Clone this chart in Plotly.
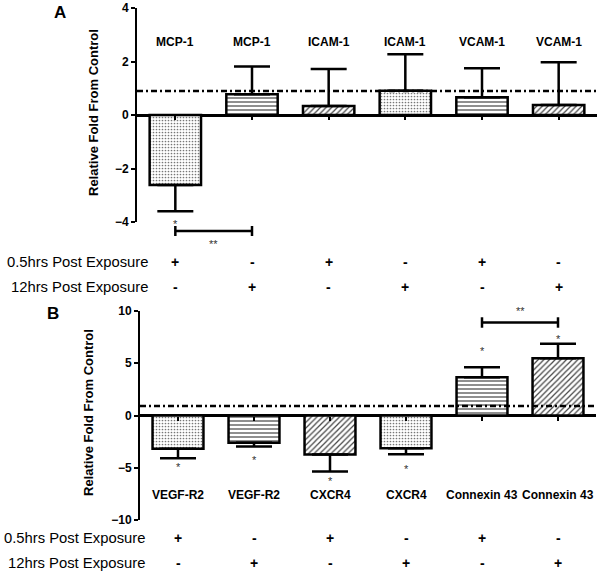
import plotly.graph_objects as go

# ---------------- data ----------------
cat_pos = [0, 1, 2, 3, 4, 5]
genes_a = ["MCP-1", "MCP-1", "ICAM-1", "ICAM-1", "VCAM-1", "VCAM-1"]
vals_a = [-2.62, 0.78, 0.34, 0.91, 0.66, 0.37]
errs_a = [0.98, 1.03, 1.38, 1.36, 1.09, 1.60]

genes_b = ["VEGF-R2", "VEGF-R2", "CXCR4", "CXCR4", "Connexin 43", "Connexin 43"]
vals_b = [-3.19, -2.60, -3.73, -3.13, 3.67, 5.48]
errs_b = [0.89, 0.37, 1.63, 0.57, 0.95, 1.38]

early = ["+", "-", "+", "-", "+", "-"]
late = ["-", "+", "-", "+", "-", "+"]
row_labels = ["0.5hrs Post Exposure", "12hrs Post Exposure"]

control_level = 0.9
ticks_a = [-4, -2, 0, 2, 4]
ticks_b = [-10, -5, 0, 5, 10]

star_a_pos = [0]
star_b_pos = [0, 1, 2, 3, 4, 5]
star_b_y = [-4.95, -4.3, -6.3, -5.15, 6.2, 7.35]
bracket_a = (0, 1)
bracket_b = (4, 5)

patterns = [".", "-", "/", ".", "-", "/"]

# ---------------- layout geometry ----------------
W, H = 601, 575
def py(p):
    return 1 - p / H
def px(p):
    return p / W

dom_xa = [px(137), px(597)]
dom_ya = [py(222), py(8)]
dom_xb = [px(140), px(596)]
dom_yb = [py(520), py(311)]
rng_x = [-0.5, 5.5]
rng_a = [-4, 4]
rng_b = [-10, 10]

def zero_pos(dom, rng):
    return dom[0] + (0 - rng[0]) / (rng[1] - rng[0]) * (dom[1] - dom[0])

FAM = "Liberation Sans"
bold = dict(family=FAM, size=12, color="black", weight="bold")

def bar_trace(vals, errs, xa, ya):
    up = [e if v >= 0 else 0 for v, e in zip(vals, errs)]
    dn = [e if v < 0 else 0 for v, e in zip(vals, errs)]
    sizes = [3 if s == "." else 4 for s in patterns]
    sol = [0.25 if s == "." else 0.3 for s in patterns]
    fg = ["#777777" if s == "." else "#444444" for s in patterns]
    return go.Bar(
        x=cat_pos, y=vals, xaxis=xa, yaxis=ya, width=0.67,
        marker=dict(color="white",
                    line=dict(color="black", width=2.5),
                    pattern=dict(shape=patterns, fgcolor=fg,
                                 bgcolor="white", size=sizes, solidity=sol)),
        error_y=dict(type="data", symmetric=False, array=up, arrayminus=dn,
                     color="black", thickness=2.5, width=18),
        showlegend=False, hoverinfo="skip",
    )

fig = go.Figure()
fig.add_trace(bar_trace(vals_a, errs_a, "x", "y"))
fig.add_trace(bar_trace(vals_b, errs_b, "x2", "y2"))

def xaxis(dom, pos):
    return dict(domain=dom, range=rng_x, anchor="free", position=pos,
                automargin=False,
                showline=False, showgrid=False, zeroline=False,
                tickvals=cat_pos, showticklabels=False,
                ticks="outside", ticklen=4, tickwidth=1.5, tickcolor="black")

def yaxis(dom, rng, tv, xa):
    return dict(domain=dom, range=rng, anchor=xa, showline=True, automargin=False,
                linecolor="black", linewidth=2, showgrid=False,
                zeroline=True, zerolinecolor="black", zerolinewidth=2.5,
                tickvals=tv, ticks="outside", ticklen=4, tickwidth=2,
                tickcolor="black", tickfont=bold)

fig.update_layout(
    template="none",
    width=W, height=H, margin=dict(l=0, r=0, t=0, b=0, pad=0),
    paper_bgcolor="white", plot_bgcolor="white",
    xaxis=xaxis(dom_xa, zero_pos(dom_ya, rng_a)),
    yaxis=yaxis(dom_ya, rng_a, ticks_a, "x"),
    xaxis2=xaxis(dom_xb, zero_pos(dom_yb, rng_b)),
    yaxis2=yaxis(dom_yb, rng_b, ticks_b, "x2"),
)

ann = []
shapes = []

def A(**kw):
    d = dict(showarrow=False, xanchor="center", yanchor="middle")
    d.update(kw)
    ann.append(d)

# control dashed lines
for xr, yr in (("x domain", "y"), ("x2 domain", "y2")):
    shapes.append(dict(type="line", xref=xr, yref=yr, x0=0, x1=1,
                       y0=control_level, y1=control_level,
                       line=dict(color="black", width=2.5, dash="6px,3px,2px,3px")))

# gene labels
for i, g in zip(cat_pos, genes_a):
    A(x=i, y=2.74, xref="x", yref="y", text=g, font=bold)
for i, g in zip(cat_pos, genes_b):
    A(x=i, y=-7.65, xref="x2", yref="y2", text=g, font=bold)

# panel letters
letter = dict(family=FAM, size=17, color="black", weight="bold")
A(x=px(60), y=py(12), xref="paper", yref="paper", text="A", font=letter)
A(x=px(53), y=py(313), xref="paper", yref="paper", text="B", font=letter)

# y titles
ytfont = dict(family=FAM, size=13, color="black", weight="bold")
A(x=px(93), y=py(113), xref="paper", yref="paper",
  text="Relative Fold From Control", textangle=-90, font=ytfont)
A(x=px(88), y=py(413), xref="paper", yref="paper",
  text="Relative Fold From Control", textangle=-90, font=ytfont)

# treatment rows
plain = dict(family=FAM, size=14.8, color="black")
signf = dict(family=FAM, size=14, color="black", weight="bold")
for xr, rows in (("x", (262, 287)), ("x2", (538, 563))):
    right = 150 if xr == "x" else 147
    for lbl, ry in zip(row_labels, rows):
        A(x=px(right), y=py(ry), xref="paper", yref="paper", text=lbl,
          xanchor="right", font=plain)
    for i, s in zip(cat_pos, early):
        A(x=i, y=py(rows[0]), xref=xr, yref="paper", text=s, font=signf)
    for i, s in zip(cat_pos, late):
        A(x=i, y=py(rows[1]), xref=xr, yref="paper", text=s, font=signf)

# significance stars
star_font = dict(family=FAM, size=11, color="#333333")
for i in star_a_pos:
    A(x=i, y=py(224), xref="x", yref="paper", text="*", font=star_font)
for i, yv in zip(star_b_pos, star_b_y):
    A(x=i, y=yv, xref="x2", yref="y2", text="*", font=star_font)

# brackets
def bracket(xr, yr, x0, x1, yv, cap):
    shapes.append(dict(type="line", xref=xr, yref=yr, x0=x0, x1=x1, y0=yv, y1=yv,
                       line=dict(color="black", width=2.5)))
    for xx in (x0, x1):
        shapes.append(dict(type="line", xref=xr, yref=yr, x0=xx, x1=xx,
                           y0=yv - cap, y1=yv + cap, line=dict(color="black", width=2.5)))

bracket("x", "paper", bracket_a[0], bracket_a[1], py(231), 5 / H)
A(x=sum(bracket_a) / 2, y=py(244), xref="x", yref="paper", text="**", font=star_font)
bracket("x2", "y2", bracket_b[0], bracket_b[1], 8.9, 0.5)
A(x=sum(bracket_b) / 2, y=py(311), xref="x2", yref="paper", text="**", font=star_font)

fig.update_layout(annotations=ann, shapes=shapes)
fig.write_html("out.html", config={"displayModeBar": False},
               post_script="document.body.style.margin='0';document.body.style.padding='0';")
